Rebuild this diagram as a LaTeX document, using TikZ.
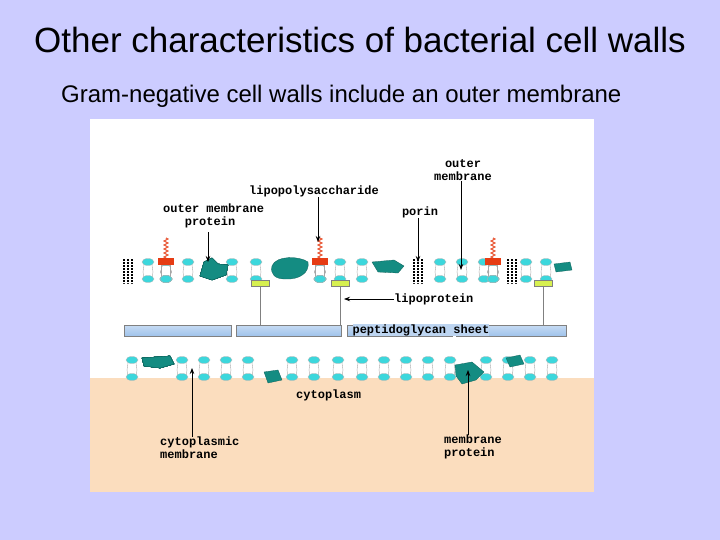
\documentclass[tikz,border=0pt]{standalone}
\usepackage{fontspec}
\setmainfont{Liberation Sans}
\newfontfamily\labelfont{Liberation Mono}
\usetikzlibrary{arrows.meta,decorations.pathmorphing}
\definecolor{slidebg}{RGB}{204,204,255}
\definecolor{cyto}{RGB}{251,221,190}
\definecolor{head}{RGB}{60,215,220}
\definecolor{prot}{RGB}{20,140,130}
\definecolor{sheet}{RGB}{160,195,235}
\definecolor{lipo}{RGB}{215,240,80}
\definecolor{lps}{RGB}{230,60,20}
\tikzset{
  lbl/.style={font=\labelfont\bfseries\fontsize{12}{13}\selectfont, align=left, inner sep=0pt},
  ptr/.style={-{Stealth[length=6pt]}, thick},
  lipid/.style={fill=head, draw=gray!60, line width=0.3pt},
  blob/.style={fill=prot, draw=prot!70!black, line width=0.3pt},
}
\newcommand{\phos}[2]{% x, y of top head
  \draw[gray!70, line width=0.4pt] (#1-4,#2+3) -- (#1-5,#2+10) -- (#1-4,#2+16);
  \draw[gray!70, line width=0.4pt] (#1+4,#2+3) -- (#1+5,#2+10) -- (#1+4,#2+16);
  \fill[lipid] (#1,#2) ellipse (6 and 3.5);
  \fill[lipid] (#1,#2+17) ellipse (6 and 3.5);
}
\newcommand{\porin}[2]{%
  \foreach \dx in {-4,0,4} \draw[black, line width=1.6pt, dash pattern=on 2pt off 1pt] (#1+\dx,#2-3) -- (#1+\dx,#2+21);
}
\begin{document}
\begin{tikzpicture}[x=1pt,y=-1pt]
\fill[slidebg] (0,0) rectangle (720,540);
\useasboundingbox (0,0) rectangle (720,540);
\node[font=\fontsize{35}{40}\selectfont] (title) at (360,40) {Other characteristics of bacterial cell walls};
\node[font=\fontsize{24}{26}\selectfont, anchor=west, inner sep=0pt] (sub) at (61,96) {Gram-negative cell walls include an outer membrane};
% figure panel
\fill[white] (90,119) rectangle (594,492);
\fill[cyto] (90,378) rectangle (594,492);
% outer membrane
\foreach \x in {148,188,232,256,340,362,440,462,484,526,546} \phos{\x}{262}
\foreach \x in {166,320,493} {
  \phos{\x}{262}
  \fill[lps] (\x-8,258) rectangle (\x+8,265);
  \draw[lps!80, decorate, decoration={zigzag,amplitude=2pt,segment length=4pt}] (\x,258) -- (\x,238);
}
\porin{128}{262}
\porin{418}{262}
\porin{512}{262}
\draw[blob] (200,276) -- (204,262) -- (212,258) -- (218,264) -- (228,265) -- (226,275) -- (212,280) -- cycle;
\draw[blob] (272,266) .. controls (276,255) and (300,256) .. (308,262) .. controls (310,272) and (300,280) .. (285,279) .. controls (275,279) and (270,274) .. (272,266) -- cycle;
\draw[blob] (372,262) -- (394,260) -- (404,266) -- (398,273) -- (378,272) -- cycle;
\draw[blob] (554,264) -- (570,262) -- (572,270) -- (556,272) -- cycle;
% lipoproteins
\foreach \x/\n in {260/lpa,340/lpb,543/lpc} {
  \fill[lipo, draw=gray] (\x-9,280) rectangle (\x+9,286);
  \coordinate (\n) at (\x,286);
  \draw[gray] (\n) -- (\x,325);
}
% peptidoglycan
\foreach \a/\b in {124/231,236/341,347/452,456/566}
  \shade[top color=sheet!60, bottom color=sheet, draw=gray] (\a,325) rectangle (\b,336);
\node[lbl, fill=sheet!70] (pg) at (421,330) {peptidoglycan sheet};
% cytoplasmic membrane
\foreach \x in {132,182,204,226,248,292,314,338,362,384,406,428,450,486,508,530,552} \phos{\x}{360}
\draw[blob] (142,358) -- (170,356) -- (174,364) -- (160,368) -- (144,366) -- cycle;
\draw[blob] (264,372) -- (278,370) -- (282,380) -- (268,383) -- cycle;
\draw[blob] (455,365) -- (472,362) -- (484,372) -- (476,380) -- (462,384) -- (456,376) -- cycle;
\draw[blob] (506,358) -- (520,355) -- (524,364) -- (510,367) -- cycle;
% labels
\node[lbl, align=center] (om) at (463,170) {outer\\membrane};
\node[lbl] (lpsl) at (314,191) {lipopolysaccharide};
\node[lbl, anchor=west] (omp) at (163,216) {outer membrane\\\ \ \ protein};
\node[lbl] (por) at (420,212) {porin};
\node[lbl, anchor=west] (lpl) at (394,299) {lipoprotein};
\node[lbl, anchor=west] (cyt) at (296,395) {cytoplasm};
\node[lbl, anchor=west] (cm) at (160,448) {cytoplasmic\\membrane};
\node[lbl, anchor=west] (mp) at (444,447) {membrane\\protein};
\coordinate (ompt) at (208,262);
\coordinate (lpst) at (318,242);
\coordinate (port) at (418,262);
\coordinate (omt) at (461,270);
\coordinate (lplt) at (344,299);
\coordinate (cmt) at (192,368);
\coordinate (mpt) at (468,370);
\draw[ptr] (208,232) -- (ompt);
\draw[ptr] (lpsl.south -| lpst) -- (lpst);
\draw[ptr] (por.south -| port) -- (port);
\draw[ptr] (om.south -| omt) -- (omt);
\draw[ptr] (lpl.west) -- (lplt);
\draw[ptr] (cm.north -| cmt) -- (cmt);
\draw[ptr] (mp.north -| mpt) -- (mpt);
\end{tikzpicture}
\end{document}
